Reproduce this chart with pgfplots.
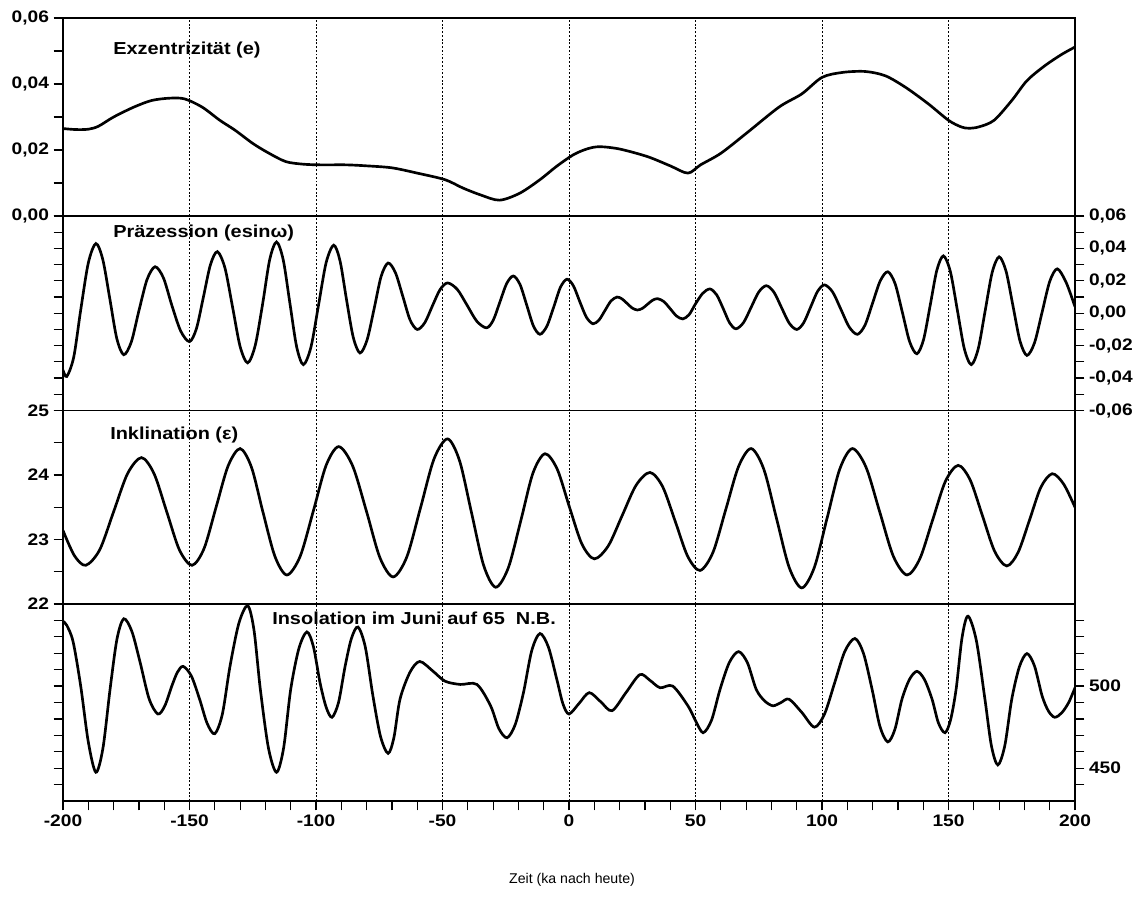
\documentclass[border=0pt]{standalone}
\usepackage{pgfplots}
\pgfplotsset{compat=1.18}
\usepackage{fontspec}
\setmainfont{Liberation Sans}[FakeStretch=1.15]
\newfontfamily\plainsans{Liberation Sans}

\pgfplotsset{
  panel/.style={
    scale only axis, width=759pt,
    xmin=-200, xmax=200,
    scaled y ticks=false, scaled x ticks=false,
    axis line style={line width=1.1pt, black},
    tick style={line width=0.9pt, black},
    tick align=outside,
    major tick length=7pt, minor tick length=7pt,
    xtick={-200,-150,...,200},
    xmajorgrids,
    major x grid style={black, line width=0.7pt, dash pattern=on 1.4pt off 1.4pt},
    tick label style={font=\fontsize{12.5}{14}\selectfont\bfseries},
    clip=true,
  },
  notx/.style={xticklabels={}, xtick style={draw=none}},
  curve/.style={black, line width=2pt, smooth, no markers},
}

\begin{document}
\begin{tikzpicture}
\path[use as bounding box] (0,0) rectangle (858.75pt,-680.25pt);

% ---------- Panel 1: Exzentrizitaet ----------
\begin{axis}[panel, notx, at={(47.25pt,-162pt)}, anchor=south west, height=148.5pt,
  ymin=0, ymax=0.06, ytick={0,0.02,0.04,0.06},
  yticklabels={{0,00},{0,02},{0,04},{0,06}},
  minor ytick={0.01,0.03,0.05}, ytick pos=left]
\addplot[curve] coordinates {
(-200,0.0265) (-195,0.0262) (-190,0.0263) (-186,0.0272) (-180,0.030) (-172,0.033)
(-165,0.035) (-158,0.0357) (-152,0.0355) (-145,0.033) (-138,0.029) (-132,0.026)
(-125,0.022) (-119,0.0192) (-112,0.0165) (-105,0.0157) (-98,0.0155) (-88,0.0155)
(-80,0.0152) (-70,0.0146) (-60,0.013) (-49,0.011) (-42,0.0085) (-35,0.0064)
(-27.5,0.0048) (-19.5,0.0069) (-11.5,0.011) (-5,0.015) (1.6,0.0185) (7,0.0203) (12,0.021)
(20,0.0203) (31,0.018) (40,0.0152) (47,0.013) (52,0.0155) (60,0.019) (70,0.025) (83,0.033)
(92,0.037) (100,0.042) (108,0.0435) (117,0.0438) (125,0.0425) (133,0.039) (142,0.034)
(150,0.029) (155,0.027) (158,0.0266) (162,0.027) (168,0.029) (175,0.035) (181,0.041)
(188,0.0455) (194.8,0.049) (200,0.0512)
};
\end{axis}

% ---------- Panel 2: Praezession ----------
\begin{axis}[panel, notx, at={(47.25pt,-307.875pt)}, anchor=south west, height=145.875pt,
  ymin=-0.06, ymax=0.06, ytick={-0.06,-0.04,...,0.061},
  yticklabels={{-0,06},{-0,04},{-0,02},{0,00},{0,02},{0,04},{0,06}},
  minor ytick={-0.05,-0.03,-0.01,0.01,0.03,0.05},
  ytick pos=both, yticklabel pos=right]
\addplot[curve] coordinates {
(-200,-0.035) (-198.5,-0.039) (-195.75,-0.027) (-193,0.002) (-190,0.031) (-187,0.043)
(-184.25,0.033) (-181.5,0.009) (-178.75,-0.0155) (-176,-0.0256) (-173,-0.0177)
(-170,0.0015) (-166.8,0.0207) (-163.6,0.0287) (-160.3,0.0218) (-157,0.005)
(-153.5,-0.0109) (-150,-0.0175) (-147.25,-0.0094) (-144.5,0.010) (-141.75,0.0298)
(-139,0.038) (-136,0.028) (-133,0.004) (-130,-0.0205) (-127,-0.0306) (-124,-0.0197)
(-121,0.0067) (-118.3,0.0331) (-115.6,0.044) (-112.95,0.0329) (-110.3,0.006)
(-107.65,-0.0207) (-105,-0.0317) (-102,-0.0209) (-99,0.005) (-96,0.0312) (-93,0.042)
(-90.5,0.0323) (-88,0.009) (-85.3,-0.0147) (-82.6,-0.0245) (-79.8,-0.0164) (-77,0.003)
(-74.25,0.0228) (-71.5,0.031) (-68.6,0.025) (-65.7,0.0105) (-62.85,-0.004) (-60,-0.010)
(-57,-0.0058) (-54,0.0045) (-51,0.0145) (-48,0.0187) (-44.15,0.0147) (-40.3,0.005)
(-36.45,-0.0049) (-32.6,-0.009) (-29.95,-0.0043) (-27.3,0.007) (-24.65,0.0183) (-22,0.023)
(-19.35,0.0177) (-16.7,0.005) (-14.1,-0.0077) (-11.5,-0.013) (-8.75,-0.008) (-6,0.004)
(-3.4,0.016) (-0.8,0.021) (1.75,0.0169) (4.3,0.007) (6.9,-0.0025) (9.5,-0.0065)
(11.9,-0.0041) (14.25,0.0018) (16.6,0.0076) (19,0.010) (21,0.0088) (23,0.006) (25,0.0032)
(27,0.002) (29,0.003) (31,0.0055) (33,0.008) (35,0.009) (37.5,0.0072) (40,0.0028)
(42.5,-0.0017) (45,-0.0035) (47.5,-0.0008) (50,0.0058) (52.85,0.0123) (55.7,0.015)
(58.35,0.0114) (61,0.0027) (63.5,-0.006) (66,-0.0096) (69,-0.0057) (72,0.0037) (75,0.0131)
(78,0.017) (81,0.013) (84,0.0035) (87,-0.006) (90,-0.010) (92.75,-0.0059) (95.5,0.0038)
(98.25,0.0135) (101,0.0175) (104.25,0.013) (107.5,0.0023) (110.75,-0.0085) (114,-0.013)
(117,-0.0073) (120,0.0063) (123,0.0199) (126,0.0256) (128.9,0.0182) (131.8,0.0003)
(134.65,-0.0176) (137.5,-0.025) (140.15,-0.0162) (142.8,0.0052) (145.4,0.0266) (148,0.0354)
(150.75,0.0256) (153.5,0.0019) (156.25,-0.0219) (159,-0.0317) (161.75,-0.0219)
(164.5,0.0016) (167.25,0.0251) (170,0.0348) (172.75,0.0259) (175.5,0.0044)
(178.25,-0.0171) (181,-0.026) (184,-0.0182) (187,0.0007) (190,0.0196) (193,0.0274)
(196.5,0.019) (200,0.004)
};
\end{axis}

% ---------- Panel 3: Inklination ----------
\begin{axis}[panel, notx, at={(47.25pt,-453pt)}, anchor=south west, height=145.125pt,
  ymin=22, ymax=25, ytick={22,23,24,25}, yticklabels={22,23,24,25},
  minor ytick={22.5,23.5,24.5}, ytick pos=left]
\addplot[curve] coordinates {
(-200,23.14) (-195.5,22.75) (-191,22.6) (-185.5,22.84) (-180,23.43) (-174.5,24.02)
(-169,24.27) (-164,24.02) (-159,23.43) (-154,22.84) (-149,22.6) (-144.25,22.86)
(-139.5,23.5) (-134.75,24.14) (-130,24.41) (-125.5,24.12) (-121,23.43) (-116.25,22.74)
(-111.5,22.45) (-106.25,22.74) (-101,23.45) (-96,24.15) (-91,24.44) (-85.5,24.14)
(-80,23.43) (-74.75,22.72) (-69.5,22.42) (-64.1,22.73) (-58.7,23.49) (-53.35,24.25)
(-48,24.56) (-43.25,24.22) (-38.5,23.41) (-33.75,22.6) (-29,22.26) (-24,22.56)
(-19,23.3) (-14.25,24.03) (-9.5,24.33) (-4.65,24.09) (0.2,23.5) (5.1,22.93) (10,22.7)
(15.5,22.9) (21,23.37) (26.5,23.84) (32,24.04) (37,23.82) (42,23.28) (46.9,22.74)
(51.8,22.52) (56.9,22.8) (62,23.47) (67,24.13) (72,24.41) (77,24.09) (82,23.33)
(87,22.57) (92,22.25) (97,22.57) (102,23.33) (107,24.09) (112,24.41) (117.4,24.12)
(122.8,23.43) (128.2,22.74) (133.6,22.45) (138.65,22.7) (143.7,23.3) (148.75,23.9)
(153.8,24.15) (158.6,23.92) (163.4,23.37) (168.2,22.82) (173,22.59) (177.5,22.8)
(182,23.3) (186.5,23.81) (191,24.02) (195.5,23.86) (200,23.5)
};
\end{axis}

% ---------- Panel 4: Insolation ----------
\begin{axis}[panel, at={(47.25pt,-600.75pt)}, anchor=south west, height=147.75pt,
  ymin=430, ymax=550, ytick={450,500}, yticklabels={450,500},
  minor ytick={440,460,470,480,490,510,520,530,540},
  ytick pos=both, yticklabel pos=right,
  xtick pos=bottom, minor x tick num=4,
  xticklabels={-200,-150,-100,-50,0,50,100,150,200}]
\addplot[curve] coordinates {
(-200,539.5) (-198.5,537) (-196,527) (-193,500) (-190,466) (-187,447.5) (-184.2,462.3)
(-181.4,498) (-178.7,528.4) (-176,541) (-172.8,533.4) (-169.6,515) (-166,492.4)
(-162.5,483) (-159.75,488) (-157,500) (-154.75,508.5) (-152.5,512) (-149.25,506.1)
(-146,492) (-143,477.2) (-140,471) (-137,483) (-134,512) (-130.5,538.2) (-127,549)
(-124.5,534) (-122,498) (-118.8,462.3) (-115.6,447.5) (-112.8,462.3) (-110,498)
(-106.8,522.7) (-103.6,533) (-101,523.9) (-98.4,502) (-96,487.2) (-93.7,481)
(-91.1,490) (-88.5,512) (-86,529) (-83.4,536) (-80.5,523.7) (-77.5,494) (-74.5,469.3)
(-71.5,459) (-69.2,468.7) (-66.8,492) (-62.9,508.3) (-59,515) (-53.7,509) (-49,503)
(-43,501) (-36.4,501) (-31,488) (-27.75,474.2) (-24.5,468.5) (-21.25,476.6) (-18,496)
(-14.75,521.5) (-11.5,532) (-8.15,523.8) (-4.8,504) (-2.4,489.2) (0,483) (4,489.5)
(8,496) (12.5,490.5) (17,485) (22.5,496) (28,507) (32,503.5) (36,499) (41,500) (47,488)
(50,479) (53,471.6) (56.35,479.3) (59.7,498) (63.35,514.3) (67,521) (70.5,514.3)
(74,498) (77.3,491) (80.6,488) (83.8,490) (87,492) (92,484) (97,475) (101,483) (105,502)
(109,521.1) (113,529) (116.4,519.9) (119.8,498) (122.9,475.4) (126,466) (128.8,473.6)
(131.6,492) (134.55,504) (137.5,509) (140.5,504) (143.5,492) (146,477.6) (148.6,471.6)
(150.8,479.3) (153,498) (155.35,529.5) (157.7,542.6) (161,527.8) (164.4,492)
(166.95,463.7) (169.5,452) (172.25,463.7) (175,492) (178,511.7) (181,519.8) (184,512.2)
(187,494) (189.5,484.8) (192,481) (194.8,483.8) (197.5,490) (200,499)
};
\end{axis}

% ---------- labels ----------
\begin{scope}[every node/.style={anchor=west, inner sep=0pt, font=\fontsize{13}{15}\selectfont\bfseries}]
\node at (84.75pt,-37.5pt) {Exzentrizität (e)};
\node at (84.75pt,-174.75pt) {Präzession (esinω)};
\node at (82.5pt,-326.25pt) {Inklination (ε)};
\node at (204pt,-463.5pt) {Insolation im Juni auf 65~~N.B.};
\end{scope}
\node[font=\plainsans\fontsize{10.6}{12}\selectfont] at (429pt,-660pt) {Zeit (ka nach heute)};
\end{tikzpicture}
\end{document}
